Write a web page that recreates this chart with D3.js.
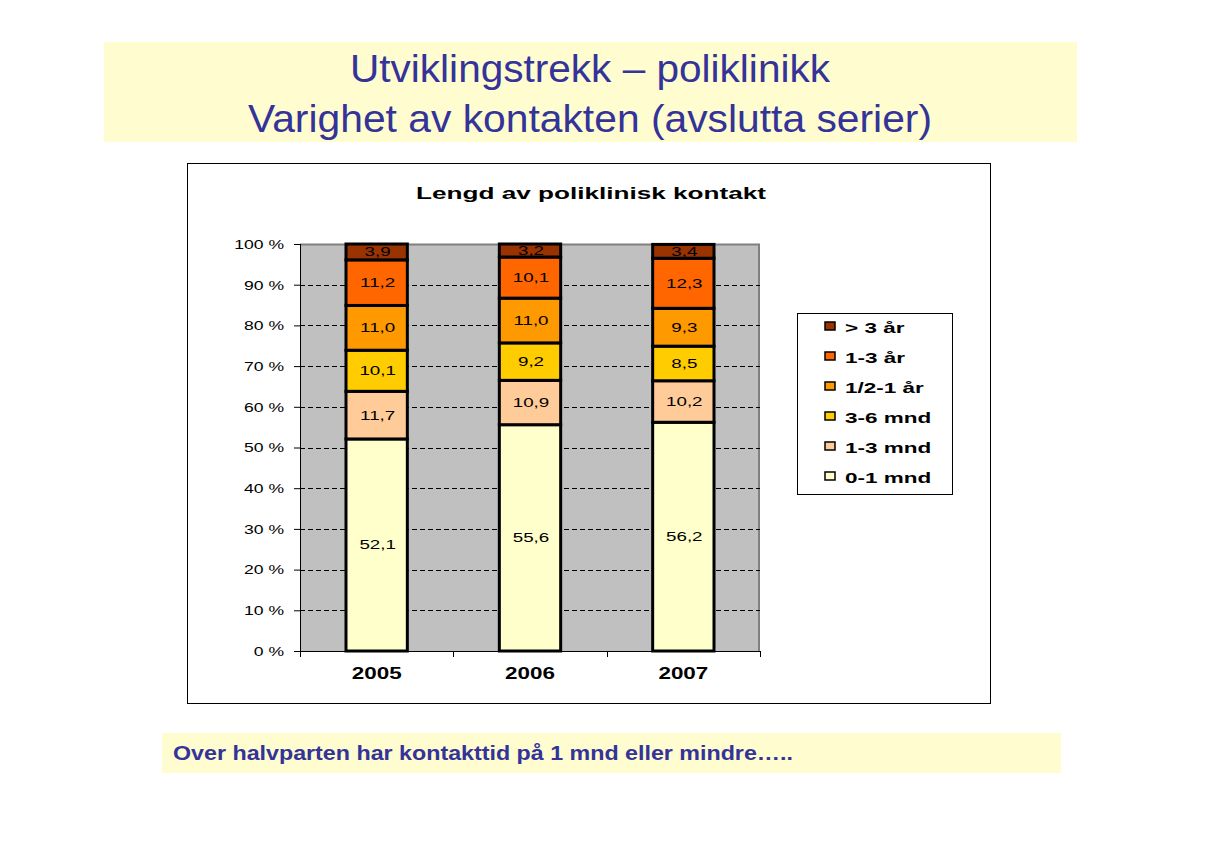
<!DOCTYPE html>
<html>
<head>
<meta charset="utf-8">
<script src="https://cdn.jsdelivr.net/npm/d3@7"></script>
<style>
  body { margin: 0; background: #fff; }
  text { font-family: "Liberation Sans", Arial, sans-serif; }
</style>
</head>
<body>
<svg id="slide" width="1205" height="846"></svg>
<script>
var years = ["2005", "2006", "2007"];
var seriesNames = ["0-1 mnd", "1-3 mnd", "3-6 mnd", "1/2-1 år", "1-3 år", "> 3 år"];
var v0to1mnd = [52.1, 55.6, 56.2];
var v1to3mnd = [11.7, 10.9, 10.2];
var v3to6mnd = [10.1, 9.2, 8.5];
var vHalfTo1ar = [11.0, 11.0, 9.3];
var v1to3ar = [11.2, 10.1, 12.3];
var vOver3ar = [3.9, 3.2, 3.4];
var yTicks = [0, 10, 20, 30, 40, 50, 60, 70, 80, 90, 100];

var seriesValues = [v0to1mnd, v1to3mnd, v3to6mnd, vHalfTo1ar, v1to3ar, vOver3ar];
var colors = ["#FFFFCC", "#FFCC99", "#FFCC00", "#FF9900", "#FF6600", "#993300"];

var svg = d3.select("#slide");
var textBlue = "#333399";

// the chart picture is stretched sideways, so widen its glyphs
function stretch(sel, factor) {
  sel.each(function() {
    var len = this.getComputedTextLength();
    d3.select(this).attr("textLength", len * factor).attr("lengthAdjust", "spacingAndGlyphs");
  });
}

// slide title
svg.append("rect").attr("x", 104).attr("y", 42).attr("width", 973).attr("height", 100).attr("fill", "#FFFCCF");
svg.append("text").attr("x", 590).attr("y", 82).attr("text-anchor", "middle")
  .attr("font-size", 38).attr("fill", textBlue)
  .attr("textLength", 480).attr("lengthAdjust", "spacingAndGlyphs")
  .text("Utviklingstrekk – poliklinikk");
svg.append("text").attr("x", 590).attr("y", 132).attr("text-anchor", "middle")
  .attr("font-size", 38).attr("fill", textBlue)
  .attr("textLength", 684).attr("lengthAdjust", "spacingAndGlyphs")
  .text("Varighet av kontakten (avslutta serier)");

// bottom note
svg.append("rect").attr("x", 162).attr("y", 733).attr("width", 899).attr("height", 40).attr("fill", "#FFFCCF");
svg.append("text").attr("x", 173).attr("y", 760)
  .attr("font-size", 20).attr("font-weight", "bold").attr("fill", textBlue)
  .attr("textLength", 620).attr("lengthAdjust", "spacingAndGlyphs")
  .text("Over halvparten har kontakttid på 1 mnd eller mindre…..");

// chart frame
svg.append("rect").attr("x", 187.5).attr("y", 163.5).attr("width", 803).attr("height", 540)
  .attr("fill", "#fff").attr("stroke", "#000").attr("stroke-width", 1);
svg.append("text").attr("x", 591).attr("y", 199).attr("text-anchor", "middle")
  .attr("font-size", 17).attr("font-weight", "bold")
  .attr("textLength", 350).attr("lengthAdjust", "spacingAndGlyphs")
  .text("Lengd av poliklinisk kontakt");

var margin = {left: 300, top: 244},
  plotW = 460,
  plotH = 407;

var x = d3.scaleBand().domain(years).range([0, plotW]).paddingInner(0.6).paddingOuter(0.3);
var xAxisScale = d3.scaleBand().domain(years).range([0, plotW]);
var y = d3.scaleLinear().domain([0, 100]).range([plotH, 0]);

var g = svg.append("g").attr("transform", "translate(" + margin.left + "," + margin.top + ")");

g.append("rect").attr("width", plotW).attr("height", plotH).attr("fill", "#C0C0C0");
g.append("path").attr("d", "M0,0.5H" + (plotW - 1) + "V" + plotH)
  .attr("fill", "none").attr("stroke", "#808080").attr("stroke-width", 2);

// gridlines
g.append("g").selectAll("line").data(yTicks.filter(function(d) { return d > 0 && d < 100; }))
  .enter().append("line")
  .attr("x1", 0).attr("x2", plotW)
  .attr("y1", function(d) { return Math.round(y(d)) + 0.5; })
  .attr("y2", function(d) { return Math.round(y(d)) + 0.5; })
  .attr("stroke", "#000").attr("stroke-dasharray", "5,3");

// stacked bars
var rows = years.map(function(yr, i) {
  var r = {year: yr};
  seriesNames.forEach(function(s, j) { r[s] = seriesValues[j][i]; });
  return r;
});
var stack = d3.stack().keys(seriesNames)(rows);

var layers = g.append("g").selectAll("g").data(stack).enter().append("g")
  .attr("fill", function(d, i) { return colors[i]; });

layers.selectAll("rect").data(function(d) { return d; }).enter().append("rect")
  .attr("x", function(d) { return x(d.data.year); })
  .attr("y", function(d) { return y(Math.min(d[1], 100)); })
  .attr("width", x.bandwidth())
  .attr("height", function(d) { return y(d[0]) - y(Math.min(d[1], 100)); })
  .attr("stroke", "#000").attr("stroke-width", 3);

var valueLabels = layers.selectAll("text").data(function(d) { return d; }).enter().append("text")
  .attr("x", function(d) { return x(d.data.year) + x.bandwidth() / 2 + 1; })
  .attr("y", function(d) { return (y(d[0]) + y(Math.min(d[1], 100))) / 2 + 4.5; })
  .attr("text-anchor", "middle").attr("font-size", 12.5).attr("fill", "#000")
  .text(function(d) { return d3.format(".1f")(d[1] - d[0]).replace(".", ","); });
stretch(valueLabels, 1.5);

// y axis
var yAxis = g.append("g")
  .call(d3.axisLeft(y).tickValues(yTicks).tickSize(6).tickPadding(10)
    .tickFormat(function(d) { return d + " %"; }));
yAxis.select(".domain").attr("stroke", "#000").attr("d", "M0.5,0V" + plotH);
yAxis.selectAll("text").attr("font-size", 13.5)
  .attr("font-family", "Liberation Sans, Arial, sans-serif");
stretch(yAxis.selectAll("text"), 1.3);

// x axis
var xAxis = g.append("g").attr("transform", "translate(0," + plotH + ")")
  .call(d3.axisBottom(xAxisScale).tickSize(0).tickPadding(17));
xAxis.select(".domain").attr("stroke", "#000").attr("d", "M0,0.5H" + plotW);
xAxis.selectAll("text").attr("font-size", 16).attr("font-weight", "bold")
  .attr("font-family", "Liberation Sans, Arial, sans-serif");
stretch(xAxis.selectAll("text"), 1.4);
xAxis.append("g").selectAll("line").data(years.concat(["end"])).enter().append("line")
  .attr("x1", function(d, i) { return Math.round(i * xAxisScale.step()) + 0.5; })
  .attr("x2", function(d, i) { return Math.round(i * xAxisScale.step()) + 0.5; })
  .attr("y1", 0).attr("y2", 6).attr("stroke", "#000");

// legend
svg.append("rect").attr("x", 797.5).attr("y", 313.5).attr("width", 155).attr("height", 181)
  .attr("fill", "#fff").attr("stroke", "#000");
var legendItems = svg.append("g").selectAll("g")
  .data(seriesNames.slice().reverse()).enter().append("g")
  .attr("transform", function(d, i) { return "translate(825," + (327 + i * 30) + ")"; });
legendItems.append("rect").attr("x", 0).attr("y", -5).attr("width", 10).attr("height", 8)
  .attr("stroke", "#000").attr("stroke-width", 1.5)
  .attr("fill", function(d) { return colors[seriesNames.indexOf(d)]; });
var legendText = legendItems.append("text").attr("x", 20).attr("y", 5.5)
  .attr("font-size", 15).attr("font-weight", "bold")
  .text(function(d) { return d; });
stretch(legendText, 1.5);
</script>
</body>
</html>
